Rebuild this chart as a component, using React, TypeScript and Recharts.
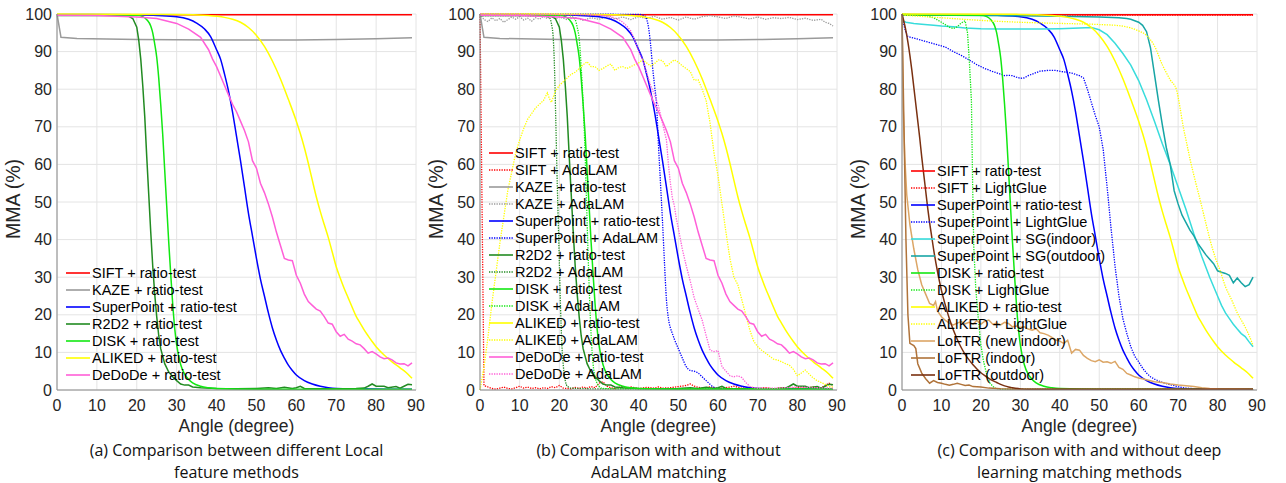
import { LineChart, Line, XAxis, YAxis, CartesianGrid } from "recharts";

type Pt = [number, number];

const ANGLE_TICKS = [0, 10, 20, 30, 40, 50, 60, 70, 80, 90];
const MMA_TICKS = [0, 10, 20, 30, 40, 50, 60, 70, 80, 90, 100];

// ratio-test curves (shared by the panels)
const SIFT_RATIO: Pt[] = [[0, 99.8], [30, 99.8], [60, 99.8], [89, 99.8]];
const KAZE_RATIO: Pt[] = [[0, 100], [1, 93.8], [5, 93.5], [20, 93.2], [40, 93.1], [60, 93.1], [70, 93.2], [80, 93.4], [89, 93.7]];
const SP_RATIO: Pt[] = [[0, 99.9], [20, 99.8], [25, 99.6], [30, 99.3], [33, 98.6], [35, 97.6], [37, 96], [38.5, 94], [40, 90.5], [41, 88], [42, 84], [43, 79.5], [44, 74], [45, 67.5], [46, 61], [47, 54], [48, 47], [49, 41], [50, 35], [51, 29.5], [52, 25], [53, 20.5], [54, 16.5], [55, 13.3], [56, 10.6], [57, 8.5], [58, 6.6], [59, 5.2], [60, 4], [62, 2.5], [64, 1.6], [66, 1], [68, 0.6], [70, 0.4], [75, 0.3], [89, 0.2]];
const R2D2_RATIO: Pt[] = [[0, 99.6], [15, 99.6], [18, 99.4], [19, 98.8], [20, 96.5], [20.5, 93], [21, 88], [21.5, 81], [22, 72.7], [22.5, 62], [23, 52], [23.5, 42], [24, 33], [24.5, 25.5], [25, 19.5], [25.5, 14.5], [26, 11], [27, 7], [28, 4.8], [29, 3.5], [30, 2.5], [31, 1.6], [32, 1.3], [33, 1.3], [34, 0.8], [36, 0.6], [40, 0.4], [45, 0.3], [50, 0.4], [53, 0.6], [55, 0.4], [57, 0.7], [59, 0.4], [60, 0.6], [61, 1.0], [62, 0.4], [65, 0.3], [70, 0.3], [75, 0.4], [77, 0.5], [78, 1.0], [79, 1.6], [80, 1.0], [82, 1.0], [83, 0.6], [85, 0.9], [86, 0.5], [87, 1.0], [88, 1.5], [89, 1.4]];
const DISK_RATIO: Pt[] = [[0, 99.8], [20, 99.7], [21.5, 99.3], [22.5, 98.5], [23.5, 96.8], [24, 95], [24.5, 92], [25, 88.5], [25.5, 83], [26, 76], [26.5, 68], [27, 58.5], [27.5, 49], [28, 39.5], [28.5, 31], [29, 23], [29.5, 16.5], [30, 12], [31, 6.8], [32, 4.2], [33, 2.8], [34, 1.9], [36, 1], [38, 0.6], [40, 0.4], [50, 0.2], [89, 0.2]];
const ALIKED_RATIO: Pt[] = [[0, 100], [30, 99.9], [38, 99.6], [42, 99.1], [44, 98.6], [46, 97.8], [48, 96.4], [50, 94.3], [52, 91.4], [54, 87.5], [56, 82.8], [58, 77.3], [60, 71.5], [61, 68.2], [62, 64.5], [63, 60.3], [64, 55.8], [65, 51.4], [66, 47.5], [67, 44], [68, 40.6], [69, 36.7], [70, 32.8], [71, 29.8], [72, 27], [73, 24.5], [74, 22], [75, 19.6], [76, 17.8], [77, 16], [78, 14.4], [79, 12.9], [80, 11.5], [82, 9.3], [84, 7.5], [86, 5.9], [88, 4.2], [89, 3.1]];
const DEDODE_RATIO: Pt[] = [[0, 99.7], [10, 99.6], [20, 99.2], [25, 98.8], [30, 97.5], [33, 96], [36, 93.8], [38, 90.5], [39, 88], [40, 86], [41, 83.5], [42, 81], [43, 78.5], [44, 76], [45, 74], [46, 71.5], [47, 69], [48, 66], [49, 61], [50, 59], [51, 55], [52, 52.5], [53, 49.5], [54, 46], [55, 42], [56, 38.5], [57, 35], [58, 34.6], [59, 34.4], [60, 30.5], [61, 28.4], [62, 25.5], [63, 23.5], [64, 22.5], [65, 21.5], [66, 21], [67, 19.5], [68, 17.8], [69, 17.5], [70, 15.5], [71, 14.3], [72, 14.8], [73, 13.5], [74, 13], [75, 12.3], [76, 12], [77, 11], [78, 9.8], [79, 10.2], [80, 9.6], [81, 8.8], [82, 8.3], [83, 8.5], [84, 8], [85, 7.2], [86, 6.9], [87, 7], [88, 6.4], [89, 7.2]];

// AdaLAM curves
const SIFT_ADALAM: Pt[] = [[0, 100], [1, 1.2], [2, 0.8], [3, 0.4], [4, 0.2], [5, 0.5], [6, 0.8], [7, 0.4], [8, 0.3], [9, 0.6], [10, 1.0], [11, 0.5], [12, 0.8], [13, 0.4], [14, 0.6], [15, 0.3], [16, 0.6], [17, 0.4], [18, 0.9], [19, 0.6], [20, 1.2], [21, 0.5], [22, 0.4], [23, 0.3], [24, 0.7], [25, 0.4], [26, 0.8], [27, 0.5], [28, 0.9], [29, 0.6], [30, 1.8], [31, 2.2], [32, 1.0], [33, 0.6], [34, 0.4], [35, 0.7], [36, 1.0], [37, 0.5], [38, 0.8], [40, 0.4], [42, 0.7], [44, 0.5], [45, 0.8], [46, 0.5], [48, 0.6], [50, 0.9], [52, 1.2], [53, 1.6], [54, 1.0], [56, 0.5], [58, 0.8], [60, 0.4], [62, 0.6], [64, 1.0], [66, 0.5], [68, 0.7], [70, 0.4], [72, 0.6], [74, 0.3], [76, 0.6], [78, 0.4], [80, 0.6], [82, 0.5], [84, 0.8], [86, 0.6], [87, 1.2], [88, 1.8], [89, 1.2]];
const KAZE_ADALAM: Pt[] = [[0, 100], [1, 98.5], [2, 98], [3, 99], [4, 98.2], [5, 98.8], [6, 97.8], [7, 98.5], [8, 99.2], [9, 98.6], [10, 99.3], [11, 98.4], [12, 98.9], [13, 98.1], [14, 99], [15, 98.6], [16, 99.4], [17, 98.8], [18, 99.5], [19, 98.7], [20, 99.2], [22, 98.5], [24, 99.1], [26, 98.3], [28, 99], [30, 98.6], [32, 99.3], [34, 98.7], [36, 99.2], [38, 98.5], [40, 99.3], [42, 98.8], [44, 99.4], [46, 98.6], [48, 99.1], [50, 98.4], [52, 99.2], [54, 98.6], [56, 99.3], [58, 99.6], [60, 99.2], [62, 98.8], [64, 99.5], [66, 99.1], [68, 98.7], [70, 99.2], [72, 98.6], [74, 99], [76, 98.8], [78, 99.1], [80, 98.5], [82, 98.9], [84, 98.3], [86, 98.6], [87, 97.8], [88, 97.5], [89, 96.8]];
const SP_ADALAM: Pt[] = [[0, 100], [40, 99.9], [41.5, 99.5], [42.3, 97.5], [43, 92], [43.5, 86], [44, 81], [44.5, 76], [45, 65], [45.5, 55], [46, 45], [46.5, 34], [47, 24], [47.5, 19], [48, 16.5], [48.5, 15], [49, 13.5], [50, 11], [51, 8.5], [52, 6.2], [53, 5.2], [54, 5], [55, 4.5], [56, 3.5], [57, 2.5], [58, 1.5], [59, 0.7], [60, 0.4], [65, 0.3], [89, 0.2]];
const R2D2_ADALAM: Pt[] = [[0, 99.6], [16, 99.5], [17.5, 99], [18, 97.5], [18.5, 93], [18.8, 85], [19.1, 72], [19.4, 58], [19.7, 46], [20, 34], [20.3, 22], [20.6, 13], [21, 6.5], [21.5, 2.5], [22, 1], [23, 0.5], [30, 0.3], [89, 0.3]];
const DISK_ADALAM: Pt[] = [[0, 99.9], [22, 99.8], [23, 99.4], [24, 98.5], [24.5, 96.5], [25, 93.5], [25.5, 86], [26, 76], [26.4, 66], [26.8, 52], [27.2, 38], [27.6, 25], [28, 15], [28.5, 7], [29, 3.5], [30, 1], [31, 0.4], [35, 0.3], [89, 0.3]];
const ALIKED_ADALAM: Pt[] = [[0, 0], [1, 6], [2, 14], [3, 23], [4, 31], [5, 39], [6, 46], [7, 53], [8, 58], [9, 63], [10, 66.5], [11, 69.5], [12, 72], [13, 73.5], [14, 75], [15, 76], [16, 77], [17, 79], [17.5, 77.5], [18, 76.5], [19, 79.5], [20, 81], [21, 82], [22, 83], [23, 84], [24, 84.5], [25, 85.5], [26, 86.5], [27, 87.3], [28, 86], [29, 86], [30, 85], [31, 85.5], [32, 86.2], [33, 86.7], [34, 85], [35, 85.8], [36, 86], [37, 85.5], [38, 86], [39, 86.5], [40, 87], [41, 87.8], [42, 87], [43, 86.2], [44, 86.8], [45, 87.8], [46, 87.6], [47, 86], [48, 87], [49, 87.8], [50, 87.2], [51, 86.2], [52, 85.5], [53, 84.7], [54, 82.4], [55, 82.5], [56, 80], [57, 77], [58, 71], [59, 63], [60, 57], [61, 49.5], [62, 42], [63, 35], [64, 30], [65, 28], [66, 24], [67, 20], [68, 16], [69, 13], [70, 11.5], [71, 10.6], [72, 9.8], [73, 9], [74, 8.2], [75, 8], [76, 7.5], [77, 7], [78, 6.6], [79, 5.5], [80, 3.8], [81, 4.5], [82, 5.3], [83, 4.2], [84, 3.2], [85, 2.5], [86, 2], [87, 1.5], [88, 0.9], [89, 0.8]];
const DEDODE_ADALAM: Pt[] = [[0, 100], [28, 99.8], [31, 99.6], [33, 99.3], [35, 98.5], [36, 97.8], [37, 96.8], [38, 95.5], [39, 93], [40, 90], [41, 87.8], [42, 84.5], [43, 81], [44, 78.5], [45, 75.5], [46, 71], [47, 66.5], [47.5, 60], [48, 55], [48.5, 51], [49, 49], [49.5, 45.5], [50, 43], [51, 37.5], [52, 33], [53, 29], [54, 24.5], [55, 21.5], [56, 18.6], [57, 14.5], [58, 10.6], [59, 10.2], [60, 10.5], [61, 6.2], [62, 5], [63, 3.8], [64, 3.5], [65, 3.8], [66, 3.3], [67, 2], [68, 1], [69, 0.6], [70, 0.5], [75, 0.5], [80, 0.8], [85, 0.6], [89, 0.5]];

// learned matchers
const SIFT_LIGHTGLUE: Pt[] = [[0, 99.7], [30, 99.7], [60, 99.7], [89, 99.7]];
const SP_LIGHTGLUE: Pt[] = [[0, 100], [0.5, 97], [1, 95], [1.5, 94], [3, 93.6], [5, 93], [7, 92.4], [9, 91.8], [11, 91.2], [13, 90], [15, 89], [17, 87.8], [19, 86.5], [21, 85.5], [23, 84.7], [25, 84], [26, 83.6], [27, 83.7], [28, 83.6], [29, 83.2], [30, 82.9], [31, 83], [32, 83.6], [33, 84], [35, 84.8], [37, 85], [39, 85], [41, 84.6], [43, 84.3], [45, 83.6], [46, 83], [47, 80], [48, 76.5], [49, 73], [50, 70], [51, 64], [52, 54], [53, 43], [54, 33], [55, 25], [56, 19], [57, 15], [58, 11.5], [59, 9], [60, 7.5], [61, 5.8], [62, 4.5], [63, 3.5], [64, 2.9], [66, 2], [68, 1.4], [70, 0.9], [72, 0.5], [75, 0.3], [89, 0.2]];
const SP_SG_INDOOR: Pt[] = [[0, 98.3], [1, 97.8], [3, 97.5], [5, 97.3], [8, 97], [10, 96.8], [13, 96.6], [16, 96.3], [20, 96.1], [25, 96], [30, 96], [35, 96], [40, 96.1], [45, 96.3], [48, 96.4], [50, 95.8], [52, 94.5], [54, 92.2], [56, 89.5], [58, 86.4], [60, 82.3], [62, 77.2], [64, 71.5], [66, 65.5], [68, 60], [70, 54], [72, 48], [74, 41.5], [76, 35.5], [78, 30], [80, 25], [81, 22.5], [82, 20.5], [83, 19], [84, 17.5], [85, 16.2], [86, 15], [87, 14.2], [88, 12.8], [89, 11.5]];
const SP_SG_OUTDOOR: Pt[] = [[0, 99.8], [20, 99.6], [40, 99.4], [50, 99.2], [55, 99], [57, 98.8], [58, 98.6], [59, 98.2], [60, 97.8], [61, 97], [62, 95.3], [63, 91], [64, 84], [65, 77], [66, 70.5], [67, 64.5], [68, 60], [69, 53], [70, 49.5], [71, 46.5], [72, 44.5], [73, 42.5], [74, 41], [75, 39], [76, 37.5], [77, 36], [78, 34.8], [79, 33.6], [80, 31.7], [81, 31.3], [82, 31], [83, 30.5], [84, 28.5], [85, 29.8], [86, 28.5], [87, 27.5], [88, 28], [89, 30]];
const DISK_LIGHTGLUE: Pt[] = [[0, 100], [6, 99.6], [8, 99], [10, 97.8], [12, 96.5], [13, 96.1], [14, 96.6], [15, 97.6], [16, 98.2], [16.6, 95], [17.1, 87], [17.6, 77], [17.9, 55], [18.2, 38], [18.7, 27], [19.3, 19.5], [20, 12], [20.6, 8], [21.5, 4], [22.3, 1.8], [23.5, 0.5], [25, 0.2], [89, 0.2]];
const ALIKED_LIGHTGLUE: Pt[] = [[0, 99.7], [10, 99], [20, 98.3], [30, 97.8], [40, 97.5], [50, 97.2], [55, 96.9], [58, 96.3], [60, 95.5], [62, 94.3], [64, 91.5], [66, 86.5], [68, 82.5], [69.6, 79.8], [70.5, 75], [71.3, 70], [72, 66.5], [73, 61.5], [74.5, 55], [75.6, 50.5], [77, 44.5], [78.1, 39.9], [79.5, 35], [80.6, 31.9], [82, 27.5], [83.6, 23.9], [85, 20.5], [86.5, 17.7], [88, 14.5], [89, 11.8]];
const LOFTR_NEW_INDOOR: Pt[] = [[0, 100], [0.3, 75], [0.7, 62], [1.2, 52], [2, 44], [3, 37.5], [4, 32], [5, 28], [6, 25.5], [7, 23], [8, 22.5], [8.5, 23.5], [9, 21], [10, 19.5], [11, 18.5], [12, 17.8], [13, 17.3], [14, 17.8], [15, 18.2], [16, 17.6], [17, 18], [18, 17.5], [19, 18.5], [20, 17.5], [21, 18.3], [22, 18.6], [23, 17.5], [24, 17.8], [25, 17.3], [26, 18], [27, 17.7], [28, 16.8], [29, 17], [30, 16.6], [31, 16.8], [32, 16.2], [33, 15.9], [34, 16.3], [35, 15.2], [36, 15], [37, 14.6], [38, 14], [39, 13.3], [40, 13], [41, 12.4], [42, 13.2], [43, 9.8], [44, 10.8], [45, 10.6], [46, 9.2], [47, 8.4], [48, 7.8], [49, 7.5], [50, 8], [51, 7.4], [52, 7.5], [53, 7.1], [54, 7.6], [55, 6], [56, 5.5], [57, 4.4], [58, 4], [59, 3.5], [60, 3.2], [62, 2.7], [64, 2.2], [66, 2], [68, 1.6], [70, 1.3], [72, 1.1], [74, 0.9], [76, 0.6], [78, 0.4], [80, 0.3], [89, 0.2]];
const LOFTR_INDOOR: Pt[] = [[0, 100], [0.5, 70], [1, 40], [1.5, 20], [2, 12.4], [3, 11.8], [3.5, 11], [4, 7], [5, 4.5], [6, 3], [7, 1.8], [8, 2.5], [9, 2], [10, 1.8], [11, 1.5], [12, 1.3], [13, 1.5], [14, 1.8], [15, 1.5], [16, 1.2], [17, 1.3], [18, 0.9], [20, 0.8], [22, 0.5], [25, 0.3], [30, 0.2], [89, 0.2]];
const LOFTR_OUTDOOR: Pt[] = [[0, 100], [1, 95.5], [2, 89], [2.5, 85], [3, 80.5], [3.5, 76], [4, 71.5], [4.5, 67], [5, 62], [5.5, 57.5], [6, 53], [6.5, 48.5], [7, 44.5], [7.5, 41], [8, 37.5], [9, 31.5], [10, 26.5], [11, 22.5], [12, 19], [13, 16], [14, 13.5], [15, 11.3], [16, 9.5], [17, 8], [18, 6.7], [19, 5.6], [20, 4.6], [21, 3.8], [22, 3.1], [23, 2.5], [24, 2], [25, 1.5], [26, 1.1], [27, 0.8], [28, 0.6], [30, 0.3], [32, 0.2], [89, 0.2]];

const C = {
  sift: "#ff0000",
  kaze: "#9a9a9a",
  superpoint: "#0000ff",
  r2d2: "#228b22",
  disk: "#12e812",
  aliked: "#ffff00",
  dedode: "#ff5fd8",
  sgIndoor: "#38dcdc",
  sgOutdoor: "#17a5a5",
  loftrNew: "#dca666",
  loftrIndoor: "#b0733a",
  loftrOutdoor: "#7a3010",
};

interface Series {
  name: string;
  points: Pt[];
  color: string;
  dotted?: boolean;
  smooth?: boolean;
}

const PANEL_A: Series[] = [
  { name: "SIFT + ratio-test", points: SIFT_RATIO, color: C.sift },
  { name: "KAZE + ratio-test", points: KAZE_RATIO, color: C.kaze },
  { name: "SuperPoint + ratio-test", points: SP_RATIO, color: C.superpoint, smooth: true },
  { name: "R2D2 + ratio-test", points: R2D2_RATIO, color: C.r2d2 },
  { name: "DISK + ratio-test", points: DISK_RATIO, color: C.disk, smooth: true },
  { name: "ALIKED + ratio-test", points: ALIKED_RATIO, color: C.aliked, smooth: true },
  { name: "DeDoDe + ratio-test", points: DEDODE_RATIO, color: C.dedode },
];

const PANEL_B: Series[] = [
  { name: "SIFT + ratio-test", points: SIFT_RATIO, color: C.sift },
  { name: "SIFT + AdaLAM", points: SIFT_ADALAM, color: C.sift, dotted: true },
  { name: "KAZE + ratio-test", points: KAZE_RATIO, color: C.kaze },
  { name: "KAZE + AdaLAM", points: KAZE_ADALAM, color: C.kaze, dotted: true },
  { name: "SuperPoint + ratio-test", points: SP_RATIO, color: C.superpoint, smooth: true },
  { name: "SuperPoint + AdaLAM", points: SP_ADALAM, color: C.superpoint, dotted: true, smooth: true },
  { name: "R2D2 + ratio-test", points: R2D2_RATIO, color: C.r2d2 },
  { name: "R2D2 + AdaLAM", points: R2D2_ADALAM, color: C.r2d2, dotted: true, smooth: true },
  { name: "DISK + ratio-test", points: DISK_RATIO, color: C.disk, smooth: true },
  { name: "DISK + AdaLAM", points: DISK_ADALAM, color: C.disk, dotted: true, smooth: true },
  { name: "ALIKED + ratio-test", points: ALIKED_RATIO, color: C.aliked, smooth: true },
  { name: "ALIKED + AdaLAM", points: ALIKED_ADALAM, color: C.aliked, dotted: true },
  { name: "DeDoDe + ratio-test", points: DEDODE_RATIO, color: C.dedode },
  { name: "DeDoDe + AdaLAM", points: DEDODE_ADALAM, color: C.dedode, dotted: true },
];

const PANEL_C: Series[] = [
  { name: "SIFT + ratio-test", points: SIFT_RATIO, color: C.sift },
  { name: "SIFT + LightGlue", points: SIFT_LIGHTGLUE, color: C.sift, dotted: true },
  { name: "SuperPoint + ratio-test", points: SP_RATIO, color: C.superpoint, smooth: true },
  { name: "SuperPoint + LightGlue", points: SP_LIGHTGLUE, color: C.superpoint, dotted: true },
  { name: "SuperPoint + SG(indoor)", points: SP_SG_INDOOR, color: C.sgIndoor },
  { name: "SuperPoint + SG(outdoor)", points: SP_SG_OUTDOOR, color: C.sgOutdoor },
  { name: "DISK + ratio-test", points: DISK_RATIO, color: C.disk, smooth: true },
  { name: "DISK + LightGlue", points: DISK_LIGHTGLUE, color: C.disk, dotted: true },
  { name: "ALIKED + ratio-test", points: ALIKED_RATIO, color: C.aliked, smooth: true },
  { name: "ALIKED + LightGlue", points: ALIKED_LIGHTGLUE, color: C.aliked, dotted: true, smooth: true },
  { name: "LoFTR (new indoor)", points: LOFTR_NEW_INDOOR, color: C.loftrNew },
  { name: "LoFTR (indoor)", points: LOFTR_INDOOR, color: C.loftrIndoor },
  { name: "LoFTR (outdoor)", points: LOFTR_OUTDOOR, color: C.loftrOutdoor, smooth: true },
];

const rows = (pts: Pt[]) => pts.map(([x, y]) => ({ x, y }));

const DOTS = "1.3 1.2";
const AXIS_FONT = "'Liberation Sans', Arial, sans-serif";

interface PanelProps {
  left: number;
  marginRight: number;
  series: Series[];
  legendTop: number;
  caption: string[];
}

function Panel({ left, marginRight, series, legendTop, caption }: PanelProps) {
  const plotLeft = 57;
  const plotRight = 430 - marginRight;
  const center = (plotLeft + plotRight) / 2;

  return (
    <div style={{ position: "absolute", left, top: 0, width: 430, height: 483 }}>
      <LineChart width={430} height={440} margin={{ top: 14, right: marginRight, bottom: 6, left: 12 }}>
        <CartesianGrid stroke="#e4e4e4" />
        <XAxis
          type="number"
          dataKey="x"
          domain={[0, 90]}
          ticks={ANGLE_TICKS}
          height={44}
          tickSize={0}
          tickMargin={10}
          tickLine={false}
          axisLine={{ stroke: "#8a8a8a" }}
          tick={{ fill: "#262626", fontSize: 16, fontFamily: AXIS_FONT }}
          label={({ viewBox }: any) =>
            viewBox ? (
              <text
                x={viewBox.x + viewBox.width / 2}
                y={426}
                textAnchor="middle"
                dominantBaseline="central"
                fill="#262626"
                fontSize={17.5}
                fontFamily={AXIS_FONT}
              >
                Angle (degree)
              </text>
            ) : null
          }
        />
        <YAxis
          type="number"
          domain={[0, 100]}
          ticks={MMA_TICKS}
          width={45}
          tickSize={0}
          tickMargin={5}
          tickLine={false}
          axisLine={{ stroke: "#8a8a8a" }}
          tick={{ fill: "#262626", fontSize: 16, fontFamily: AXIS_FONT }}
          label={({ viewBox }: any) => {
            if (!viewBox) return null;
            const cx = viewBox.x + 1;
            const cy = viewBox.y + viewBox.height / 2 - 3;
            return (
              <text
                x={cx}
                y={cy}
                transform={`rotate(-90, ${cx}, ${cy})`}
                textAnchor="middle"
                dominantBaseline="central"
                fill="#262626"
                fontSize={19.5}
                fontFamily={AXIS_FONT}
              >
                MMA (%)
              </text>
            );
          }}
        />
        {series.map((s) => (
          <Line
            key={s.name}
            data={rows(s.points)}
            dataKey="y"
            name={s.name}
            type={s.smooth ? "monotone" : "linear"}
            stroke={s.color}
            strokeWidth={s.dotted ? 1.3 : 1.5}
            strokeDasharray={s.dotted ? DOTS : undefined}
            dot={false}
            activeDot={false}
            isAnimationActive={false}
          />
        ))}
      </LineChart>

      <div
        style={{
          position: "absolute",
          left: 66,
          top: legendTop - 8.5,
          fontFamily: AXIS_FONT,
          fontSize: 14.5,
          color: "#000",
          pointerEvents: "none",
        }}
      >
        {series.map((s) => (
          <div key={s.name} style={{ height: 17, display: "flex", alignItems: "center", whiteSpace: "nowrap" }}>
            <svg width={24} height={4} style={{ marginRight: 2 }}>
              <line
                x1={0}
                y1={2}
                x2={24}
                y2={2}
                stroke={s.color}
                strokeWidth={s.dotted ? 1.3 : 1.6}
                strokeDasharray={s.dotted ? DOTS : undefined}
              />
            </svg>
            <span>{s.name}</span>
          </div>
        ))}
      </div>

      <div
        style={{
          position: "absolute",
          left: center - 250,
          width: 500,
          top: 439,
          textAlign: "center",
          fontFamily: "'Open Sans', sans-serif",
          fontSize: 16,
          lineHeight: "22px",
          color: "#111",
        }}
      >
        {caption.map((line) => (
          <div key={line}>{line}</div>
        ))}
      </div>
    </div>
  );
}

export default function App() {
  return (
    <div style={{ position: "absolute", left: 0, top: 0, width: 1286, height: 483, background: "#fff" }}>
      <Panel
        left={0}
        marginRight={14}
        series={PANEL_A}
        legendTop={273}
        caption={["(a) Comparison between different Local", "feature methods"]}
      />
      <Panel
        left={423}
        marginRight={16}
        series={PANEL_B}
        legendTop={153}
        caption={["(b) Comparison with and without", "AdaLAM matching"]}
      />
      <Panel
        left={845}
        marginRight={18}
        series={PANEL_C}
        legendTop={171}
        caption={["(c) Comparison with and without deep", "learning matching methods"]}
      />
    </div>
  );
}
